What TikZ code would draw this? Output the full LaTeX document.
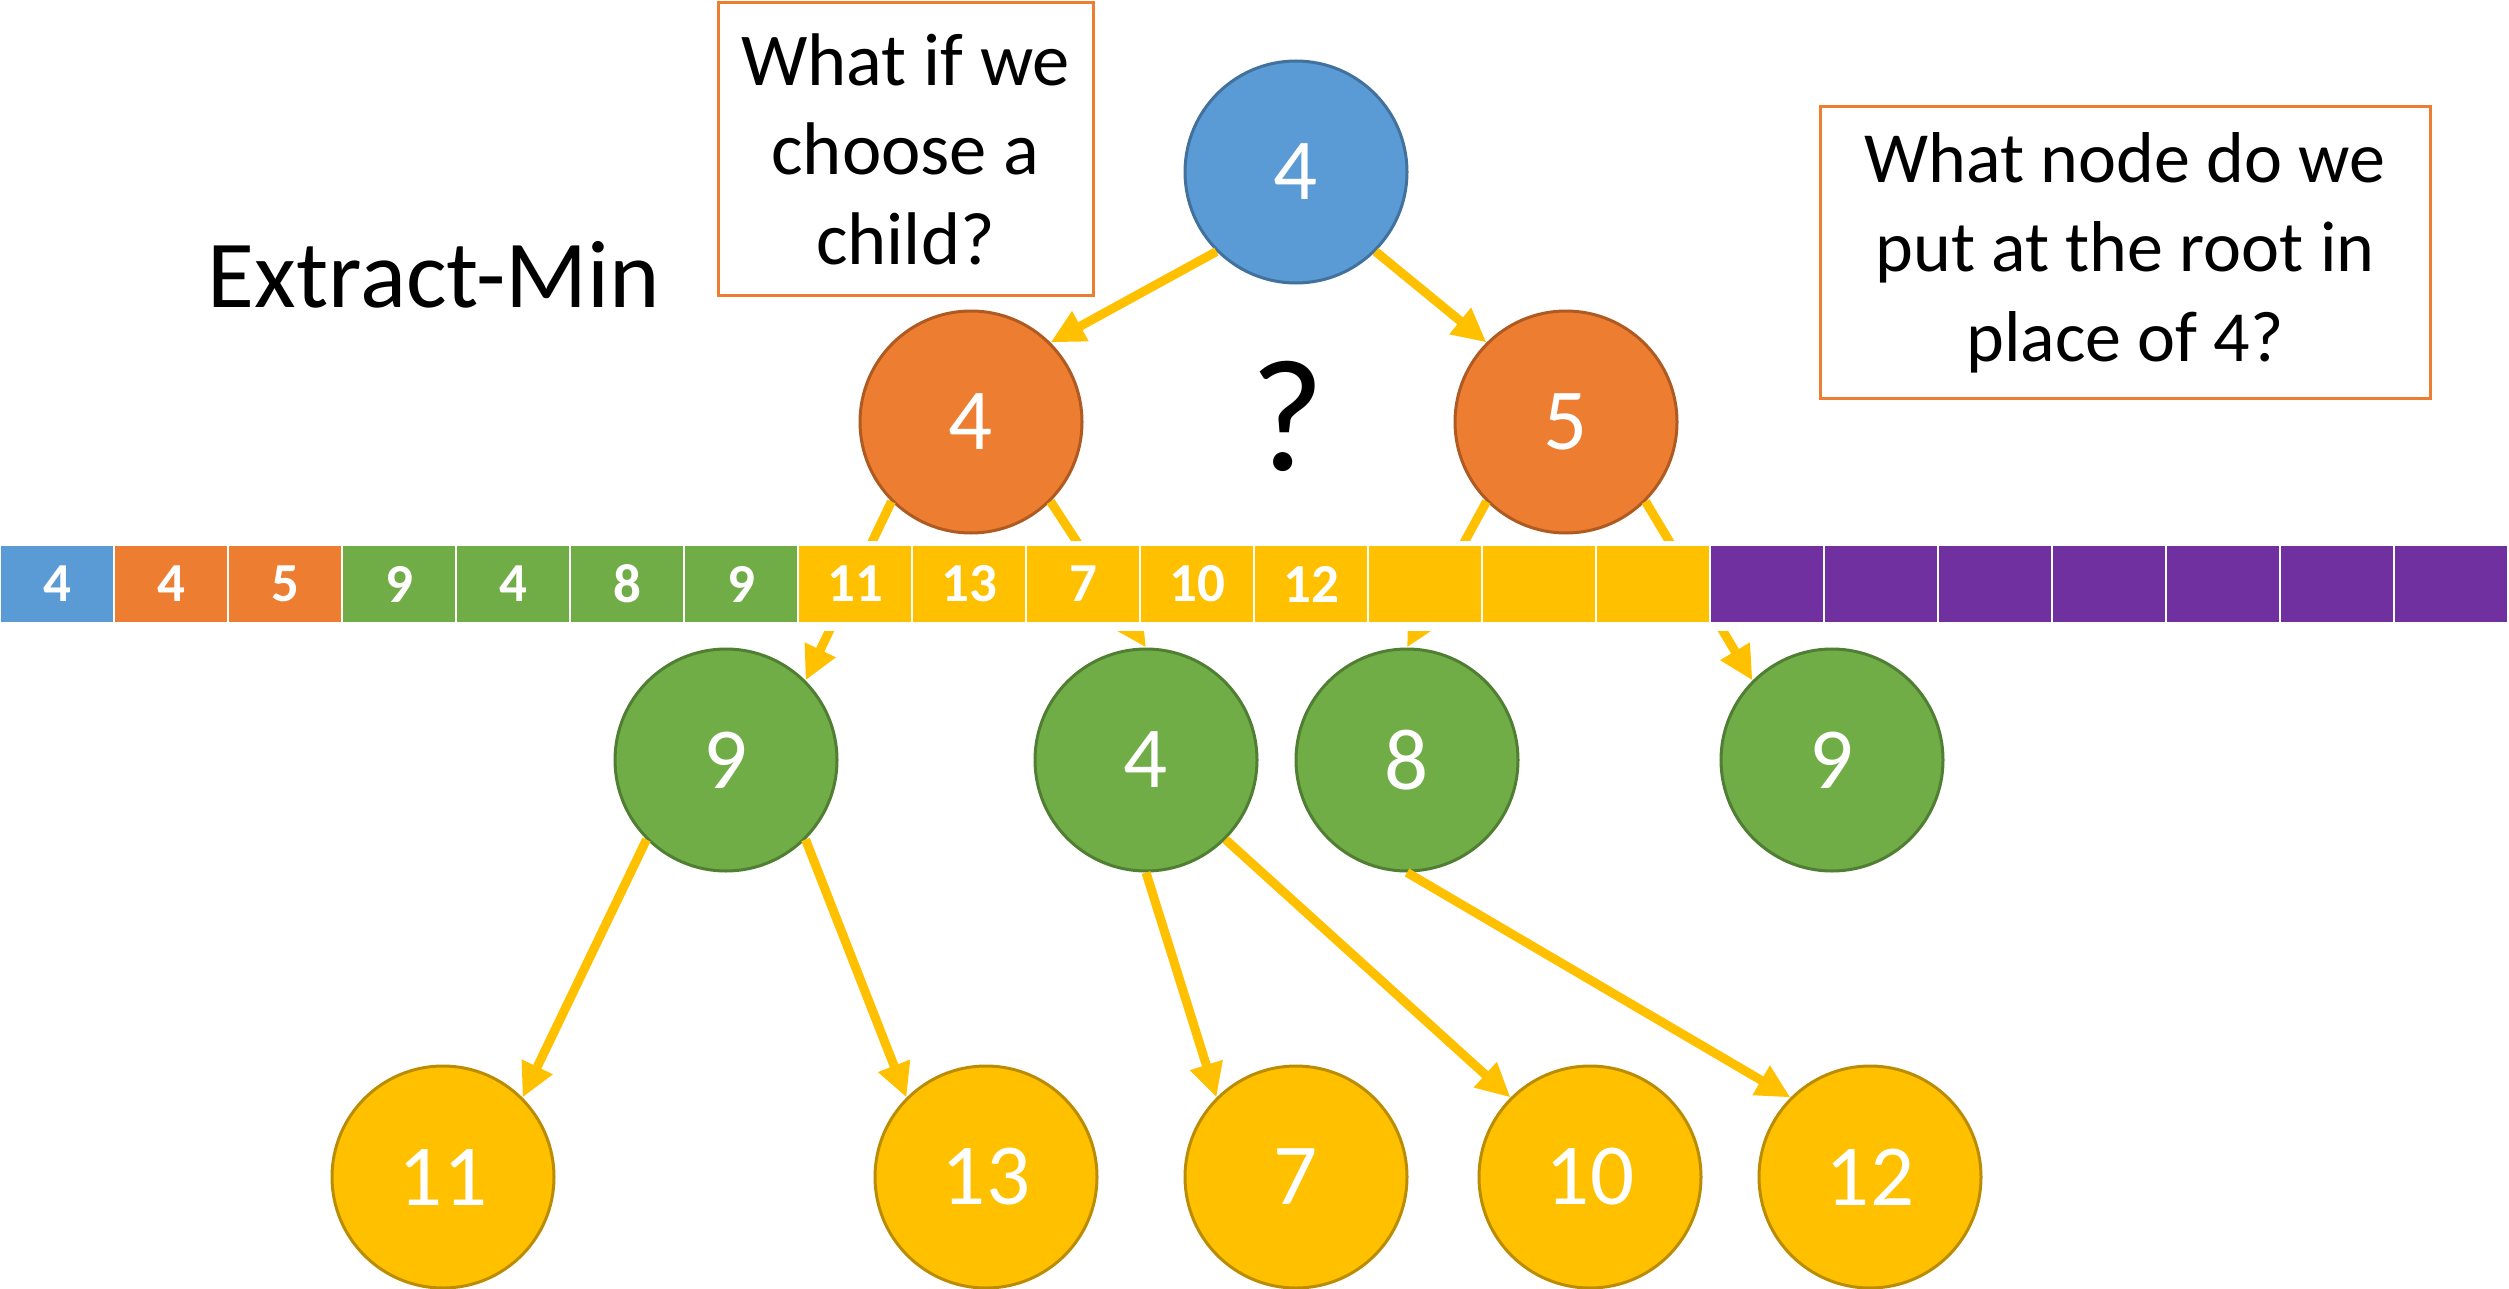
\documentclass[tikz,border=0pt]{standalone}
\usepackage{fontspec}
\setmainfont{Carlito}
\usetikzlibrary{arrows.meta}

\definecolor{hblue}{HTML}{5B9BD5}
\definecolor{hblueD}{HTML}{41719C}
\definecolor{horange}{HTML}{ED7D31}
\definecolor{horangeD}{HTML}{AE5A21}
\definecolor{hgreen}{HTML}{70AD47}
\definecolor{hgreenD}{HTML}{507E32}
\definecolor{hyellow}{HTML}{FFC000}
\definecolor{hyellowD}{HTML}{BC8C00}
\definecolor{hpurple}{HTML}{7030A0}

\begin{document}
\begin{tikzpicture}[x=0.5pt,y=-0.5pt,
  heapnode/.style={circle,minimum size=111pt,inner sep=0pt,line width=1.5pt,
    text=white,font=\fontsize{43.5pt}{50pt}\selectfont},
  bluenode/.style={heapnode,fill=hblue,draw=hblueD},
  orangenode/.style={heapnode,fill=horange,draw=horangeD},
  greennode/.style={heapnode,fill=hgreen,draw=hgreenD},
  yellownode/.style={heapnode,fill=hyellow,draw=hyellowD},
  edge/.style={draw=hyellow,line width=4.5pt,
    -{Triangle[length=17pt,width=16pt]}},
  cell/.style={rectangle,minimum width=57pt,minimum height=39pt,inner sep=0pt,
    draw=white,line width=1pt,text=white,
    font=\bfseries\fontsize{27.5pt}{32pt}\selectfont},
  notebox/.style={rectangle,draw=horange,line width=1.5pt,inner sep=0pt,
    align=center}
]
\useasboundingbox (0,0) rectangle (2509,1289);

% title and question mark
\node[anchor=base,font=\fontsize{48pt}{56pt}\selectfont] (title) at (434,307) {Extract-Min};
\node[anchor=base,font=\fontsize{80pt}{90pt}\selectfont] (qmark) at (1288,470) {?};

% note boxes
\node[notebox,minimum width=187.5pt,minimum height=146pt,
  font=\fontsize{37.3pt}{44.75pt}\selectfont] (note1) at (905.5,149)
  {What if we\\choose a\\child?};
\node[notebox,minimum width=305pt,minimum height=145.5pt,
  font=\fontsize{36pt}{44.75pt}\selectfont] (note2) at (2125,252.5)
  {What node do we\\put at the root in\\place of 4?};

% heap tree
\node[bluenode] (root) at (1296,172) {4};
\node[orangenode] (o4) at (971,422) {4};
\node[orangenode] (o5) at (1566,422) {5};
\node[greennode] (g9a) at (726,760) {9};
\node[greennode] (g4) at (1146,760) {4};
\node[greennode] (g8) at (1407,760) {8};
\node[greennode] (g9b) at (1832,760) {9};
\node[yellownode] (y11) at (443,1177) {11};
\node[yellownode] (y13) at (986,1177) {13};
\node[yellownode] (y7) at (1296,1177) {7};
\node[yellownode] (y10) at (1590,1177) {10};
\node[yellownode] (y12) at (1870,1177) {12};

% parent-child links
\draw[edge] (root.south west) -- (o4.north east);
\draw[edge] (root.south east) -- (o5.north west);
\draw[edge] (o4.south west) -- (g9a.north east);
\draw[edge] (o4.south east) -- (g4.north);
\draw[edge] (o5.south west) -- (g8.north);
\draw[edge] (o5.south east) -- (g9b.north west);
\draw[edge] (g9a.south west) -- (y11.north east);
\draw[edge] (g9a.south east) -- (y13.north west);
\draw[edge] (g4.south) -- (y7.north west);
\draw[edge] (g4.south east) -- (y10.north west);
\draw[edge] (g8.south) -- (y12.north west);

% array layout of the heap, on a white band that hides the links
\fill[white] (0,541) rectangle (2509,631);
\foreach \i/\col/\v in {0/hblue/4,1/horange/4,2/horange/5,
    3/hgreen/9,4/hgreen/4,5/hgreen/8,6/hgreen/9,
    7/hyellow/11,8/hyellow/13,9/hyellow/7,10/hyellow/10,11/hyellow/12,
    12/hyellow/{},13/hyellow/{},14/hyellow/{},
    15/hpurple/{},16/hpurple/{},17/hpurple/{},18/hpurple/{},
    19/hpurple/{},20/hpurple/{},21/hpurple/{}}
  \node[cell,fill=\col] (cell\i) at ({114*\i+57},584) {\v};
\end{tikzpicture}
\end{document}
